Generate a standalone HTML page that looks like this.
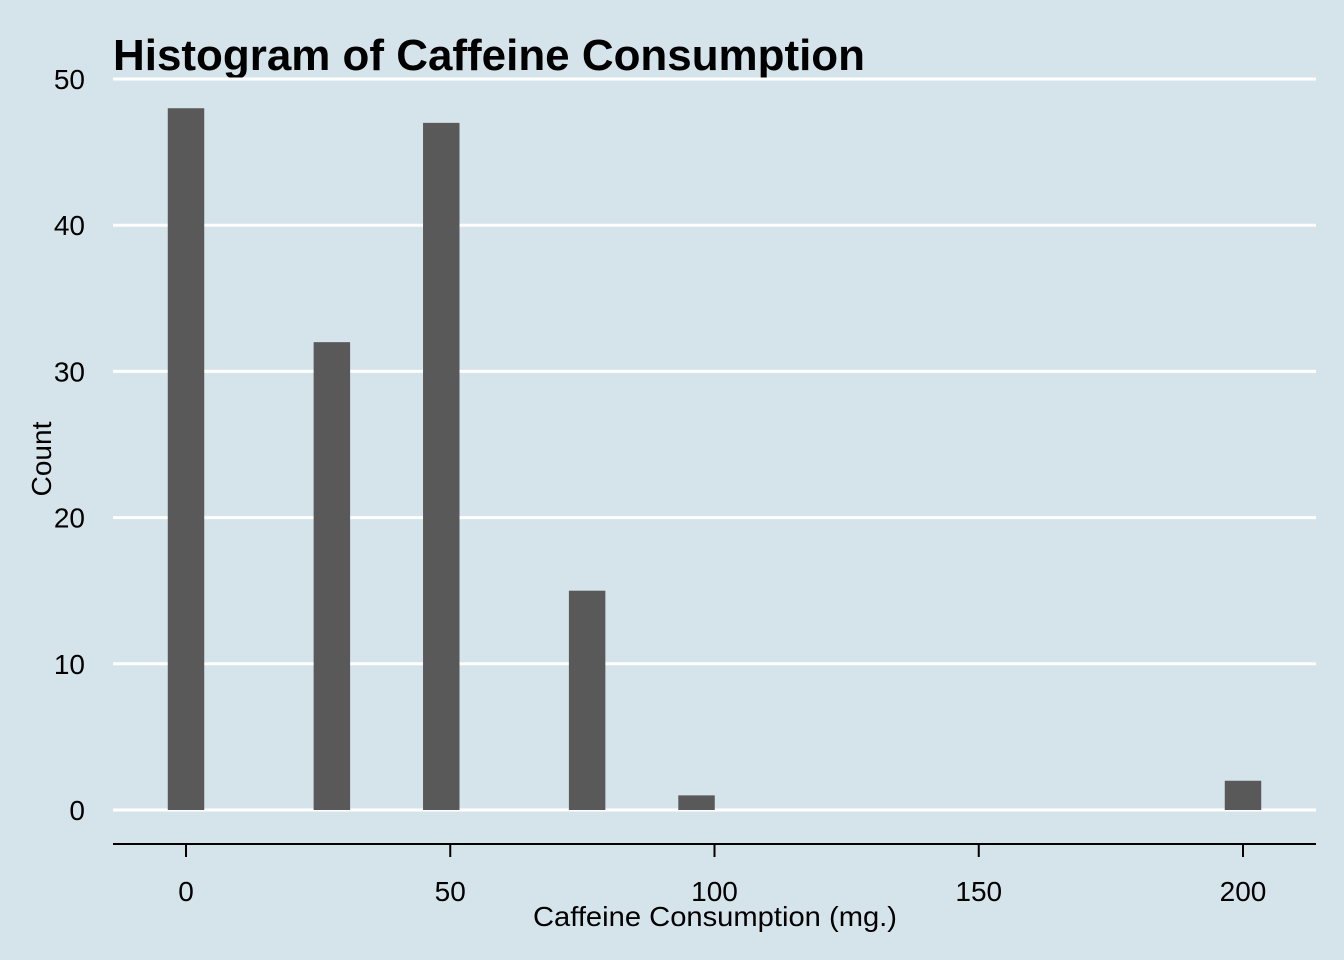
<!DOCTYPE html>
<html><head><meta charset="utf-8"><style>
body{margin:0;background:#d5e4eb;}
svg{display:block;font-family:"Liberation Sans",Arial,sans-serif;}
</style></head><body>
<svg id="chart" width="1344" height="960" viewBox="0 0 1344 960">
<rect x="0" y="0" width="1344" height="960" fill="#d5e4eb"/>
<text x="113" y="70" font-size="44" font-weight="bold" fill="#000" textLength="752" lengthAdjust="spacingAndGlyphs">Histogram of Caffeine Consumption</text>
<g id="grid"></g>
<g id="ylabels"></g>
<g id="bars"></g>
<g id="xaxis"></g>
<text x="51" y="459" font-size="28" text-anchor="middle" transform="rotate(-90 51 459)" fill="#000">Count</text>
<text x="715" y="926" font-size="28" text-anchor="middle" fill="#000" textLength="364" lengthAdjust="spacingAndGlyphs">Caffeine Consumption (mg.)</text>
</svg>
<script>
const binCenters = [0, 27.6, 48.3, 75.9, 96.6, 200];
const counts = [48, 32, 47, 15, 1, 2];
const binWidth = 6.9;
const yTicks = [0, 10, 20, 30, 40, 50];
const xTicks = [0, 50, 100, 150, 200];

const NS = "http://www.w3.org/2000/svg";
const x = v => 186 + v * 5.285;
const y = v => 810 - v * 14.62;
function mk(tag, attrs, parent, txt){
  const e = document.createElementNS(NS, tag);
  for (const k in attrs) e.setAttribute(k, attrs[k]);
  if (txt !== undefined) e.textContent = txt;
  parent.appendChild(e);
  return e;
}
const grid = document.getElementById('grid');
const yl = document.getElementById('ylabels');
yTicks.forEach(t => {
  const l = mk('line', {x1:113, x2:1316, y1:y(t), y2:y(t), stroke:'#fff', 'stroke-width':3}, grid);
  
  
  const tx = mk('text', {x:85, y:y(t)+10, 'font-size':28, 'text-anchor':'end', fill:'#000'}, yl, t);
  
  
});
const bars = document.getElementById('bars');
binCenters.forEach((c, i) => {
  const r = mk('rect', {x:x(c - binWidth/2), y:y(counts[i]), width:binWidth*5.285, height:y(0)-y(counts[i]), fill:'#595959'}, bars);
  
  
});
const xa = document.getElementById('xaxis');
const al = mk('line', {x1:113, x2:1316, y1:844, y2:844, stroke:'#000', 'stroke-width':2}, xa);


xTicks.forEach(t => {
  const tk = mk('line', {x1:x(t), x2:x(t), y1:844, y2:857, stroke:'#000', 'stroke-width':2}, xa);
  
  
  const tx = mk('text', {x:x(t), y:901, 'font-size':28, 'text-anchor':'middle', fill:'#000'}, xa, t);
  
  
});
</script>
</body></html>
